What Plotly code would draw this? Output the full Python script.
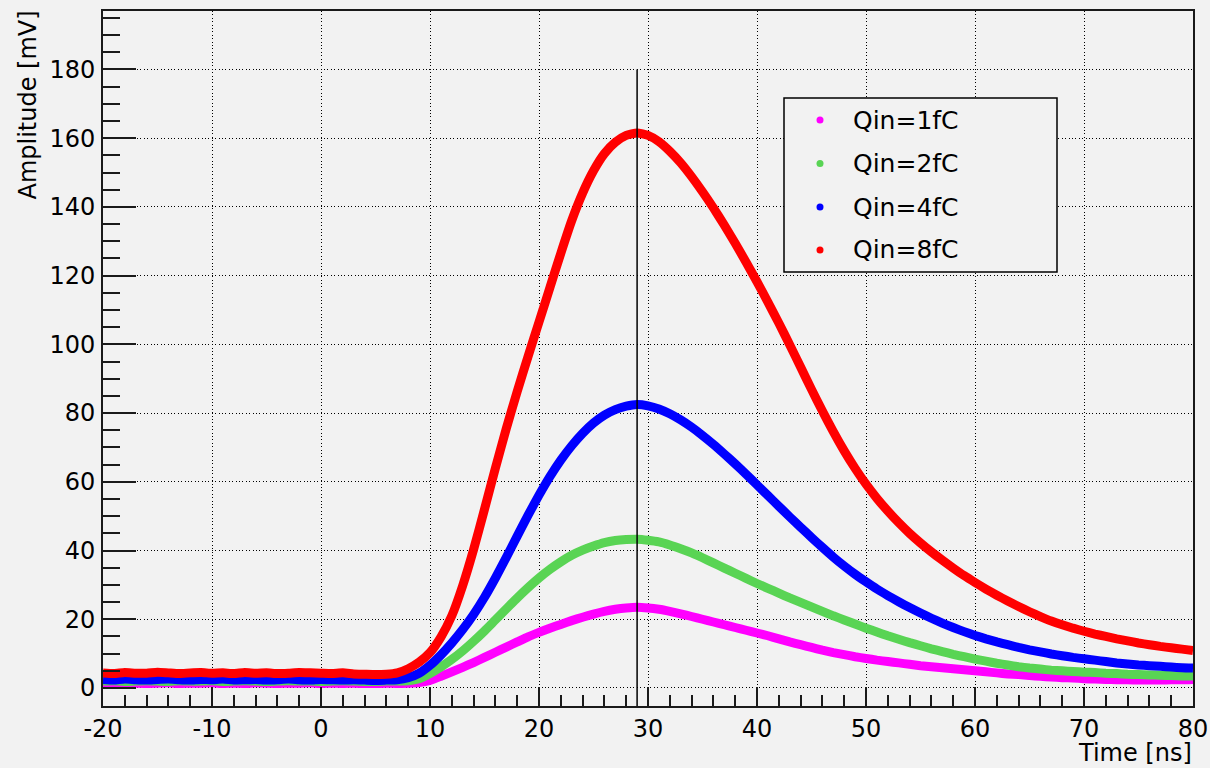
import plotly.graph_objects as go

# ---------------- data ----------------
time_ns = list(range(-20, 81))  # 1 ns sampling, -20 .. 80 ns

series_names = ["Qin=1fC", "Qin=2fC", "Qin=4fC", "Qin=8fC"]
series_colors = ["#ff00ff", "#59d454", "#0000ff", "#ff0000"]

amp_1fC = [1.4, 1.3, 1.5, 1.4, 1.3, 1.4, 1.5, 1.3, 1.4, 1.4,
           1.5, 1.3, 1.4, 1.3, 1.5, 1.4, 1.3, 1.4, 1.4, 1.5,
           1.3, 1.4, 1.3, 1.4, 1.3, 1.3, 1.4, 1.3, 1.4,
           1.6, 2.2, 3.4, 4.7, 6.0, 7.4, 8.9, 10.4, 11.9, 13.4,
           14.9, 16.2, 17.4, 18.5, 19.6, 20.6, 21.5, 22.3, 22.9, 23.3, 23.5,
           23.3, 22.9, 22.3, 21.6, 20.8, 20.0, 19.2, 18.4, 17.6, 16.8,
           16.0, 15.2, 14.3, 13.4, 12.6, 11.8, 11.0, 10.3, 9.7, 9.1,
           8.6, 8.1, 7.7, 7.3, 6.9, 6.5, 6.2, 5.9, 5.6, 5.3,
           5.0, 4.7, 4.4, 4.1, 3.9, 3.6, 3.4, 3.2, 3.0, 2.9,
           2.7, 2.6, 2.5, 2.4, 2.4, 2.3, 2.3, 2.3, 2.4, 2.4, 2.5]

amp_2fC = [2.0, 2.1, 1.9, 2.0, 2.1, 2.0, 1.9, 2.1, 2.0, 2.0,
           2.1, 1.9, 2.0, 2.1, 2.0, 1.9, 2.0, 2.1, 2.0, 2.0,
           1.9, 2.0, 2.1, 2.0, 1.9, 1.9, 2.0, 2.0, 2.1,
           2.7, 4.2, 6.1, 8.3, 10.8, 13.6, 16.6, 19.8, 23.0, 26.2,
           29.2, 32.0, 34.5, 36.7, 38.6, 40.1, 41.3, 42.3, 42.9, 43.2, 43.3,
           43.0, 42.5, 41.6, 40.5, 39.3, 37.9, 36.4, 34.9, 33.4, 31.9,
           30.4, 29.0, 27.6, 26.2, 24.9, 23.6, 22.3, 21.0, 19.8, 18.6,
           17.4, 16.3, 15.2, 14.2, 13.2, 12.3, 11.4, 10.6, 9.8, 9.1,
           8.4, 7.8, 7.2, 6.7, 6.2, 5.8, 5.5, 5.2, 5.0, 4.8,
           4.6, 4.5, 4.3, 4.2, 4.0, 3.9, 3.8, 3.7, 3.6, 3.5, 3.5]

amp_4fC = [2.5, 2.3, 2.6, 2.4, 2.3, 2.5, 2.6, 2.4, 2.3, 2.5,
           2.4, 2.6, 2.3, 2.4, 2.5, 2.3, 2.4, 2.6, 2.4, 2.3,
           2.5, 2.4, 2.3, 2.4, 2.3, 2.2, 2.3, 2.4,
           3.0, 4.3, 6.6, 9.6, 13.1, 17.0, 21.4, 26.4, 32.0, 38.0,
           44.2, 50.3, 56.1, 61.5, 66.3, 70.5, 74.1, 77.1, 79.4, 81.0, 82.0, 82.5,
           82.1, 81.2, 79.8, 78.0, 75.9, 73.5, 70.9, 68.1, 65.2, 62.2,
           59.1, 56.0, 52.9, 49.8, 46.8, 43.8, 40.9, 38.1, 35.5, 33.1,
           30.9, 28.8, 26.9, 25.1, 23.4, 21.8, 20.3, 18.9, 17.6, 16.4,
           15.3, 14.3, 13.4, 12.6, 11.8, 11.1, 10.5, 9.9, 9.4, 8.9,
           8.5, 8.1, 7.7, 7.3, 7.0, 6.7, 6.5, 6.3, 6.1, 5.9, 5.8]

amp_8fC = [4.4, 4.2, 4.5, 4.3, 4.3, 4.6, 4.4, 4.2, 4.4, 4.5,
           4.3, 4.4, 4.2, 4.5, 4.3, 4.4, 4.2, 4.3, 4.5, 4.4,
           4.3, 4.2, 4.4, 4.1, 4.0, 3.9, 4.0,
           4.4, 5.6, 7.5, 10.3, 14.8, 21.0, 29.8, 40.3, 52.0, 64.0,
           75.5, 86.3, 96.5, 106.5, 116.5, 126.5, 136.0, 144.0, 150.5, 155.5,
           158.8, 160.8, 161.5,
           160.8, 159.0, 156.2, 152.8, 148.8, 144.4, 139.7, 134.7, 129.4, 123.9,
           118.2, 112.3, 106.2, 99.9, 93.4, 86.9, 80.6, 74.6, 69.0, 63.9,
           59.3, 55.2, 51.5, 48.1, 45.0, 42.2, 39.6, 37.2, 34.9, 32.7,
           30.7, 28.8, 27.0, 25.3, 23.7, 22.2, 20.8, 19.5, 18.4, 17.4,
           16.5, 15.7, 15.0, 14.3, 13.7, 13.1, 12.6, 12.1, 11.7, 11.3, 10.9]

series_values = [amp_1fC, amp_2fC, amp_4fC, amp_8fC]
for s in series_values:
    assert len(s) == len(time_ns)

x_tick_vals = [-20, -10, 0, 10, 20, 30, 40, 50, 60, 70, 80]
y_tick_vals = [0, 20, 40, 60, 80, 100, 120, 140, 160, 180]
peak_time = 29
peak_line_top = 180

x_title = "Time [ns]"
y_title = "Amplitude [mV]"

# ---------------- layout constants ----------------
W, H = 1210, 768
L, R, T, B = 103, 17, 11, 62
PW, PH = W - L - R, H - T - B
BG = "#f2f2f2"
FONT = "DejaVu Sans"
AX = "#1a1a1a"
Y_RANGE = [-5.24, 197.0]


def px(xp):
    return (xp - L) / PW


def py(yp):
    return (H - B - yp) / PH


fig = go.Figure()
for name, color, vals in zip(series_names, series_colors, series_values):
    fig.add_trace(go.Scatter(
        x=time_ns, y=vals, name=name, mode="lines",
        line=dict(color=color, width=9, shape="spline", smoothing=0.5),
        showlegend=False, hoverinfo="x+y+name"))

axis_common = dict(
    automargin=False,
    showline=True, linewidth=2, linecolor=AX, mirror=True,
    ticks="inside", tickwidth=2, tickcolor=AX,
    showgrid=True, gridcolor="#000000", gridwidth=1, griddash="1px,2.4px",
    zeroline=False,
    tickfont=dict(family=FONT, size=24, color="#000000"),
)

fig.update_xaxes(
    range=[-20, 80], tickmode="array", tickvals=x_tick_vals,
    ticktext=[str(v) for v in x_tick_vals], ticklen=19,
    minor=dict(ticks="inside", ticklen=11, tickwidth=1.5, tickcolor=AX,
               dtick=2, tick0=0, showgrid=False),
    **axis_common)
fig.update_yaxes(
    range=Y_RANGE, tickmode="array", tickvals=y_tick_vals,
    ticktext=[str(v) for v in y_tick_vals], ticklen=33,
    ticklabelstandoff=1,
    minor=dict(ticks="inside", ticklen=17, tickwidth=1.5, tickcolor=AX,
               dtick=5, tick0=0, showgrid=False),
    **axis_common)

shapes = [
    dict(type="line", xref="x", yref="y", x0=peak_time, x1=peak_time,
         y0=Y_RANGE[0], y1=peak_line_top, line=dict(color="#000000", width=1.5)),
    # legend box
    dict(type="rect", xref="paper", yref="paper",
         x0=px(784), x1=px(1057), y0=py(272), y1=py(98),
         line=dict(color="#000000", width=1.5), fillcolor=BG, layer="above"),
]
annotations = [
    dict(text=x_title, xref="paper", yref="paper", x=px(1194), y=py(753),
         xanchor="right", yanchor="middle", showarrow=False,
         font=dict(family=FONT, size=24, color="#000000")),
    dict(text=y_title, xref="paper", yref="paper", x=px(28), y=py(9),
         xanchor="center", yanchor="top", textangle=-90, showarrow=False,
         font=dict(family=FONT, size=24, color="#000000")),
]
legend_rows = [120, 163.5, 207, 250]
for name, color, yr in zip(series_names, series_colors, legend_rows):
    shapes.append(dict(type="circle", xref="paper", yref="paper",
                       x0=px(816.5), x1=px(823.5), y0=py(yr + 3.5), y1=py(yr - 3.5),
                       fillcolor=color, line=dict(color=color, width=0), layer="above"))
    annotations.append(dict(text=name, xref="paper", yref="paper",
                            x=px(851), y=py(yr), xanchor="left", yanchor="middle",
                            showarrow=False,
                            font=dict(family=FONT, size=25, color="#000000")))

fig.update_layout(
    width=W, height=H, autosize=False,
    margin=dict(l=L, r=R, t=T, b=B, pad=0),
    paper_bgcolor=BG, plot_bgcolor=BG,
    showlegend=False,
    shapes=shapes, annotations=annotations,
    font=dict(family=FONT, size=24, color="#000000"),
)

fig.write_html("out.html")
